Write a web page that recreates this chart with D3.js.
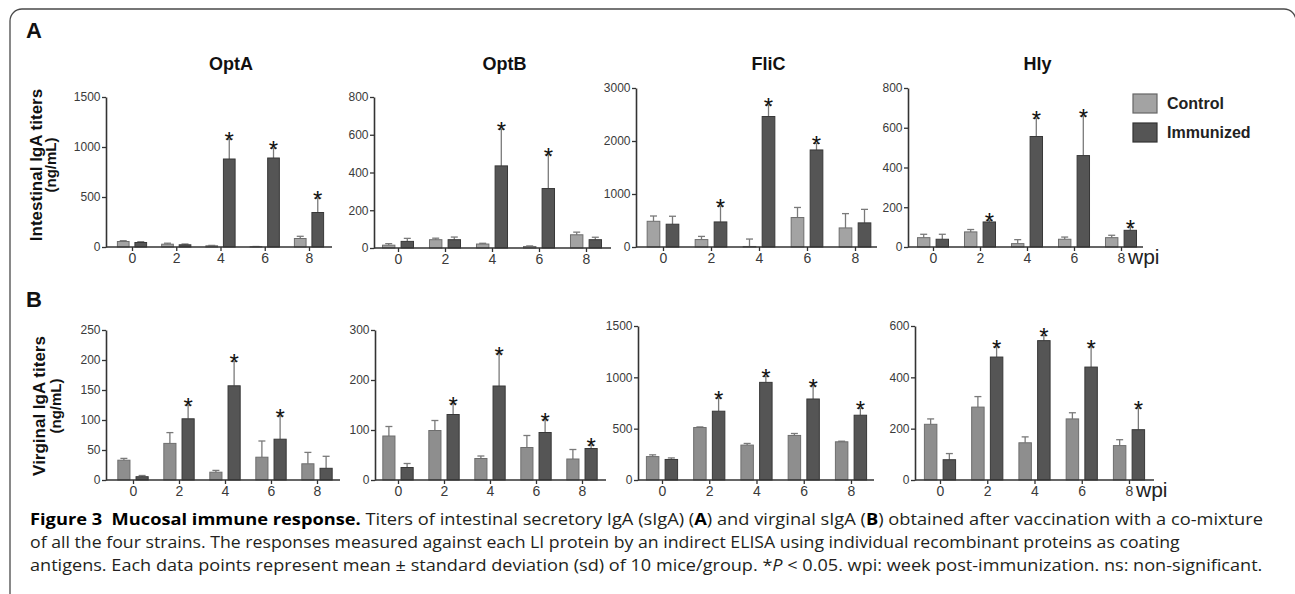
<!DOCTYPE html>
<html>
<head>
<meta charset="utf-8">
<script src="https://cdn.jsdelivr.net/npm/d3@7"></script>
<style>
  body { margin: 0; background: #fff; }
  svg { display: block; }
  svg text { font-family: "Liberation Sans", Arial, Helvetica, sans-serif; }
  svg text.cap { font-family: "Open Sans", "Noto Sans", sans-serif; }
</style>
</head>
<body>
<div id="chart"></div>
<script>
// ---- data ------------------------------------------------------------
var weeks = ["0", "2", "4", "6", "8"];
var groups = ["Control", "Immunized"];

// A: intestinal IgA titers (ng/mL)
var aOptATicks = [0, 500, 1000, 1500];
var aOptACtl   = [55, 28, 12, 3, 85];
var aOptACtlSd = [8, 10, 4, 2, 22];
var aOptAImm   = [45, 22, 880, 890, 345];
var aOptAImmSd = [8, 8, 200, 100, 145];
var aOptASig   = [0, 0, 1, 1, 1];

var aOptBTicks = [0, 200, 400, 600, 800];
var aOptBCtl   = [15, 44, 21, 8, 70];
var aOptBCtlSd = [8, 8, 4, 3, 14];
var aOptBImm   = [35, 44, 435, 315, 44];
var aOptBImmSd = [16, 14, 195, 180, 13];
var aOptBSig   = [0, 0, 1, 1, 0];

var aFliCTicks = [0, 1000, 2000, 3000];
var aFliCCtl   = [485, 140, 10, 556, 360];
var aFliCCtlSd = [100, 60, 140, 190, 270];
var aFliCImm   = [430, 473, 2462, 1831, 455];
var aFliCImmSd = [150, 300, 220, 125, 255];
var aFliCSig   = [0, 1, 1, 1, 0];

var aHlyTicks = [0, 200, 400, 600, 800];
var aHlyCtl   = [47, 76, 17, 39, 47];
var aHlyCtlSd = [17, 12, 20, 11, 12];
var aHlyImm   = [39, 126, 556, 460, 84];
var aHlyImmSd = [25, 9, 92, 200, 17];
var aHlySig   = [0, 1, 1, 1, 1];

// B: virginal IgA titers (ng/mL)
var bOptATicks = [0, 50, 100, 150, 200, 250];
var bOptACtl   = [33, 61, 13, 38, 27];
var bOptACtlSd = [3, 18, 3, 27, 19];
var bOptAImm   = [5.5, 102, 157, 68, 19.5];
var bOptAImmSd = [2, 23, 41, 39, 20];
var bOptASig   = [0, 1, 1, 1, 0];

var bOptBTicks = [0, 100, 200, 300];
var bOptBCtl   = [88, 99, 43, 65, 42];
var bOptBCtlSd = [19, 20, 5, 24, 19];
var bOptBImm   = [25, 131, 188, 95, 63];
var bOptBImmSd = [8, 22, 65, 26, 7];
var bOptBSig   = [0, 1, 1, 1, 1];

var bFliCTicks = [0, 500, 1000, 1500];
var bFliCCtl   = [228, 511, 340, 434, 372];
var bFliCCtlSd = [17, 6, 16, 19, 6];
var bFliCImm   = [200, 670, 951, 789, 631];
var bFliCImmSd = [15, 129, 59, 130, 68];
var bFliCSig   = [0, 1, 1, 1, 1];

var bHlyTicks = [0, 200, 400, 600];
var bHlyCtl   = [217, 284, 145, 238, 134];
var bHlyCtlSd = [21, 41, 23, 24, 23];
var bHlyImm   = [79, 479, 543, 440, 196];
var bHlyImmSd = [24, 40, 20, 79, 84];
var bHlySig   = [0, 1, 1, 1, 1];

// ---- layout ----------------------------------------------------------
var W = 1295, H = 594;

var panels = [
  { name: "OptA", title: true, ticks: aOptATicks, ctl: aOptACtl, ctlSd: aOptACtlSd, imm: aOptAImm, immSd: aOptAImmSd, sig: aOptASig,
    axisX: 106, xEnd: 332, t0: 132, t1: 309, yTop: 97, yBot: 247, ctlFill: "#a3a3a3" },
  { name: "OptB", title: true, ticks: aOptBTicks, ctl: aOptBCtl, ctlSd: aOptBCtlSd, imm: aOptBImm, immSd: aOptBImmSd, sig: aOptBSig,
    axisX: 374, xEnd: 611, t0: 398, t1: 586, yTop: 97, yBot: 248, ctlFill: "#a3a3a3" },
  { name: "FliC", title: true, ticks: aFliCTicks, ctl: aFliCCtl, ctlSd: aFliCCtlSd, imm: aFliCImm, immSd: aFliCImmSd, sig: aFliCSig,
    axisX: 636, xEnd: 877, t0: 663, t1: 855, yTop: 88, yBot: 247, ctlFill: "#a3a3a3" },
  { name: "Hly", title: true, ticks: aHlyTicks, ctl: aHlyCtl, ctlSd: aHlyCtlSd, imm: aHlyImm, immSd: aHlyImmSd, sig: aHlySig,
    axisX: 908, xEnd: 1143, t0: 933, t1: 1121, yTop: 88, yBot: 247, ctlFill: "#a3a3a3", wpi: true },
  { name: "OptA", ticks: bOptATicks, ctl: bOptACtl, ctlSd: bOptACtlSd, imm: bOptAImm, immSd: bOptAImmSd, sig: bOptASig,
    axisX: 106, xEnd: 340, t0: 133, t1: 317, yTop: 330, yBot: 480, ctlFill: "#8e8e8e" },
  { name: "OptB", ticks: bOptBTicks, ctl: bOptBCtl, ctlSd: bOptBCtlSd, imm: bOptBImm, immSd: bOptBImmSd, sig: bOptBSig,
    axisX: 375, xEnd: 606, t0: 398, t1: 582, yTop: 330, yBot: 480, ctlFill: "#8e8e8e" },
  { name: "FliC", ticks: bFliCTicks, ctl: bFliCCtl, ctlSd: bFliCCtlSd, imm: bFliCImm, immSd: bFliCImmSd, sig: bFliCSig,
    axisX: 638, xEnd: 874, t0: 662, t1: 851, yTop: 326, yBot: 480, ctlFill: "#8e8e8e" },
  { name: "Hly", ticks: bHlyTicks, ctl: bHlyCtl, ctlSd: bHlyCtlSd, imm: bHlyImm, immSd: bHlyImmSd, sig: bHlySig,
    axisX: 915, xEnd: 1154, t0: 940, t1: 1129, yTop: 326, yBot: 480, ctlFill: "#8e8e8e", wpi: true }
];

var svg = d3.select("#chart").append("svg")
    .attr("width", W)
    .attr("height", H);

// frame
svg.append("rect")
    .attr("x", 10).attr("y", 9)
    .attr("width", 1286).attr("height", 700)
    .attr("rx", 12)
    .attr("fill", "none")
    .attr("stroke", "#4a4a4a")
    .attr("stroke-width", 1.3);

// panel letters
svg.append("text").attr("x", 26).attr("y", 38).text("A")
    .attr("font-size", 22).attr("font-weight", "bold").attr("fill", "#111");
svg.append("text").attr("x", 26).attr("y", 307).text("B")
    .attr("font-size", 22).attr("font-weight", "bold").attr("fill", "#111");

// y titles
function yTitle(x1, x2, cy, line1) {
  svg.append("text")
      .attr("transform", "translate(" + x1 + "," + cy + ") rotate(-90)")
      .attr("text-anchor", "middle")
      .attr("font-size", 17).attr("font-weight", "bold").attr("fill", "#111")
      .text(line1);
  svg.append("text")
      .attr("transform", "translate(" + x2 + "," + cy + ") rotate(-90)")
      .attr("text-anchor", "middle")
      .attr("font-size", 15).attr("font-weight", "bold").attr("fill", "#111")
      .text("(ng/mL)");
}
yTitle(42, 56, 165, "Intestinal IgA titers");
yTitle(45, 61, 406, "Virginal IgA titers");

function drawPanel(p) {
  var g = svg.append("g");
  var y = d3.scaleLinear().domain([0, d3.max(p.ticks)]).range([p.yBot, p.yTop]);
  var x = d3.scalePoint().domain(weeks).range([p.t0, p.t1]);
  var half = x.step() * 0.33;
  var inner = d3.scaleBand().domain(groups).range([-half, half]).paddingInner(1 / 3);
  var cx = function(d) { return x(d.w) + inner(d.grp) + inner.bandwidth() / 2; };

  var rows = [];
  weeks.forEach(function(w, i) {
    rows.push({ w: w, grp: "Control", v: p.ctl[i], sd: p.ctlSd[i], sig: 0 });
    rows.push({ w: w, grp: "Immunized", v: p.imm[i], sd: p.immSd[i], sig: p.sig[i] });
  });

  // error bars (upper only)
  var eb = g.selectAll(".err").data(rows).enter().append("g").attr("class", "err");
  eb.append("line")
      .attr("x1", cx).attr("x2", cx)
      .attr("y1", function(d) { return y(d.v); })
      .attr("y2", function(d) { return y(d.v + d.sd); })
      .attr("stroke", "#7a7a7a").attr("stroke-width", 1.3);
  eb.append("line")
      .attr("x1", function(d) { return cx(d) - 3.5; })
      .attr("x2", function(d) { return cx(d) + 3.5; })
      .attr("y1", function(d) { return y(d.v + d.sd); })
      .attr("y2", function(d) { return y(d.v + d.sd); })
      .attr("stroke", "#7a7a7a").attr("stroke-width", 1.3);

  // bars
  g.selectAll(".bar").data(rows).enter().append("rect")
      .attr("class", "bar")
      .attr("x", function(d) { return x(d.w) + inner(d.grp); })
      .attr("width", inner.bandwidth())
      .attr("y", function(d) { return y(d.v); })
      .attr("height", function(d) { return y(0) - y(d.v); })
      .attr("fill", function(d) { return d.grp === "Control" ? p.ctlFill : "#555555"; })
      .attr("stroke", function(d) { return d.grp === "Control" ? "#6e6e6e" : "#383838"; })
      .attr("stroke-width", 1);

  // significance stars
  g.selectAll(".star").data(rows.filter(function(d) { return d.sig; })).enter().append("text")
      .attr("class", "star")
      .attr("x", cx)
      .attr("y", function(d) { return y(d.v + d.sd) + 10; })
      .attr("text-anchor", "middle")
      .attr("font-size", 24)
      .attr("fill", "#111")
      .text("*");

  // y axis
  var ya = g.append("g")
      .attr("transform", "translate(" + p.axisX + ",0)")
      .call(d3.axisLeft(y).tickValues(p.ticks).tickFormat(d3.format("d"))
            .tickSize(4).tickSizeOuter(0).tickPadding(1.5));
  ya.attr("font-family", null);
  ya.select(".domain").attr("stroke", "#333").attr("stroke-width", 1.6);
  ya.selectAll(".tick line").attr("stroke", "#333").attr("stroke-width", 1.3);
  ya.selectAll(".tick text").attr("font-size", 12).attr("fill", "#3a3a3a");

  // x axis
  var xa = g.append("g")
      .attr("transform", "translate(0," + p.yBot + ")")
      .call(d3.axisBottom(x).tickSize(4).tickSizeOuter(0).tickPadding(2));
  xa.attr("font-family", null);
  xa.select(".domain").remove();
  xa.append("line")
      .attr("x1", p.axisX).attr("x2", p.xEnd)
      .attr("stroke", "#333").attr("stroke-width", 1.6);
  xa.selectAll(".tick line").attr("stroke", "#333").attr("stroke-width", 1.3);
  xa.selectAll(".tick text").attr("font-size", 14).attr("fill", "#3a3a3a");

  if (p.title) {
    svg.append("text")
        .attr("x", (p.axisX + p.xEnd) / 2 + 12)
        .attr("y", 70)
        .attr("text-anchor", "middle")
        .attr("font-size", 18).attr("font-weight", "bold").attr("fill", "#111")
        .text(p.name);
  }
  if (p.wpi) {
    svg.append("text")
        .attr("x", p.t1 + 7)
        .attr("y", p.yBot + 17)
        .attr("font-size", 21).attr("fill", "#222")
        .text("wpi");
  }
}
panels.forEach(drawPanel);

// legend
var legColor = d3.scaleOrdinal().domain(groups).range(["#a3a3a3", "#555555"]);
var legStroke = d3.scaleOrdinal().domain(groups).range(["#666", "#333"]);
var leg = svg.append("g").attr("transform", "translate(1133,94)");
var li = leg.selectAll(".li").data(groups).enter().append("g")
    .attr("transform", function(d, i) { return "translate(0," + (i * 29) + ")"; });
li.append("rect").attr("width", 24).attr("height", 19)
    .attr("fill", function(d) { return legColor(d); })
    .attr("stroke", function(d) { return legStroke(d); }).attr("stroke-width", 1.2);
li.append("text").attr("x", 34).attr("y", 15)
    .attr("font-size", 16).attr("font-weight", "bold").attr("fill", "#222")
    .text(function(d) { return d; });

// caption
var captionLines = [
  [["Figure 3  Mucosal immune response.", "b"], [" Titers of intestinal secretory IgA (sIgA) (", ""], ["A", "b"],
   [") and virginal sIgA (", ""], ["B", "b"], [") obtained after vaccination with a co-mixture", ""]],
  [["of all the four strains. The responses measured against each LI protein by an indirect ELISA using individual recombinant proteins as coating", ""]],
  [["antigens. Each data points represent mean \u00b1 standard deviation (sd) of 10 mice/group. *", ""], ["P", "i"],
   [" < 0.05. wpi: week post-immunization. ns: non-significant.", ""]]
];
var captionEnds = [1264, 1180, 1263];
var capX = 30, capY = 525, capStep = 23;

captionLines.forEach(function(parts, i) {
  var t = svg.append("text")
      .attr("class", "cap")
      .attr("x", 0).attr("y", 0)
      .attr("font-size", 15.5)
      .attr("fill", "#231f20")
      .style("white-space", "pre");
  parts.forEach(function(pt) {
    t.append("tspan")
        .attr("font-weight", pt[1] === "b" ? "bold" : "normal")
        .attr("font-style", pt[1] === "i" ? "italic" : "normal")
        .attr("fill", pt[1] === "b" ? "#000" : "#231f20")
        .text(pt[0]);
  });
  var w = t.node().getComputedTextLength();
  var sx = (captionEnds[i] - capX) / w;
  t.attr("transform", "translate(" + capX + "," + (capY + i * capStep) + ") scale(" + sx + ",1)");
});
</script>
</body>
</html>
